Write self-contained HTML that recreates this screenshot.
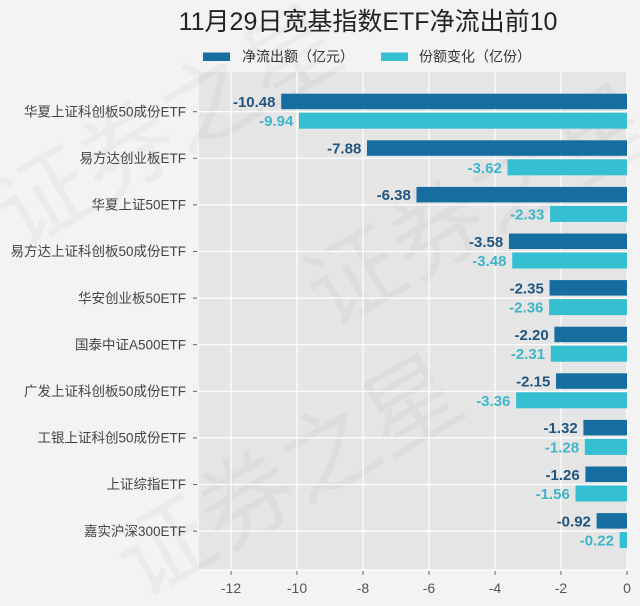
<!DOCTYPE html>
<html>
<head>
<meta charset="utf-8">
<style>
html,body{margin:0;padding:0;background:#f3f3f3;width:640px;height:606px;overflow:hidden;}
svg{display:block;}
</style>
</head>
<body>
<svg width="640" height="606" viewBox="0 0 640 606" xmlns="http://www.w3.org/2000/svg" overflow="hidden">
<rect x="0" y="0" width="640" height="606" fill="#f3f3f3"/>
<!-- plot background -->
<rect x="199" y="72" width="428" height="498" fill="#e5e5e5"/>
<!-- watermark -->
<g font-family="'Liberation Sans','Noto Sans CJK SC',sans-serif" font-size="95" fill="#000" fill-opacity="0.03">
<text x="20" y="250" transform="rotate(-30 20 250)">证券之星</text>
<text x="330" y="330" transform="rotate(-30 330 330)">证券之星</text>
<text x="140" y="600" transform="rotate(-30 140 600)">证券之星</text>
</g>
<!-- vertical grid -->
<g stroke="#ffffff" stroke-width="1.2">
<line x1="231" y1="72" x2="231" y2="570"/>
<line x1="297" y1="72" x2="297" y2="570"/>
<line x1="363" y1="72" x2="363" y2="570"/>
<line x1="429" y1="72" x2="429" y2="570"/>
<line x1="495" y1="72" x2="495" y2="570"/>
<line x1="561" y1="72" x2="561" y2="570"/>
<line x1="627" y1="72" x2="627" y2="570"/>
<!-- horizontal grid -->
<line x1="199" y1="111.7" x2="627" y2="111.7"/>
<line x1="199" y1="158.3" x2="627" y2="158.3"/>
<line x1="199" y1="204.9" x2="627" y2="204.9"/>
<line x1="199" y1="251.5" x2="627" y2="251.5"/>
<line x1="199" y1="298.1" x2="627" y2="298.1"/>
<line x1="199" y1="344.7" x2="627" y2="344.7"/>
<line x1="199" y1="391.3" x2="627" y2="391.3"/>
<line x1="199" y1="437.9" x2="627" y2="437.9"/>
<line x1="199" y1="484.5" x2="627" y2="484.5"/>
<line x1="199" y1="531.1" x2="627" y2="531.1"/>
<line x1="199" y1="570" x2="627" y2="570"/>
</g>
<!-- bars dark -->
<g fill="#166ea0">
<rect x="281.2" y="93.7" width="345.8" height="15.5"/>
<rect x="367.0" y="140.3" width="260.0" height="15.5"/>
<rect x="416.5" y="186.9" width="210.5" height="15.5"/>
<rect x="508.9" y="233.5" width="118.1" height="15.5"/>
<rect x="549.5" y="280.1" width="77.5" height="15.5"/>
<rect x="554.4" y="326.7" width="72.6" height="15.5"/>
<rect x="556.0" y="373.3" width="71.0" height="15.5"/>
<rect x="583.4" y="419.9" width="43.6" height="15.5"/>
<rect x="585.4" y="466.5" width="41.6" height="15.5"/>
<rect x="596.6" y="513.1" width="30.4" height="15.5"/>
</g>
<!-- bars cyan -->
<g fill="#35bfd3">
<rect x="299.0" y="112.7" width="328.0" height="16"/>
<rect x="507.5" y="159.3" width="119.5" height="16"/>
<rect x="550.1" y="205.9" width="76.9" height="16"/>
<rect x="512.2" y="252.5" width="114.8" height="16"/>
<rect x="549.1" y="299.1" width="77.9" height="16"/>
<rect x="550.8" y="345.7" width="76.2" height="16"/>
<rect x="516.1" y="392.3" width="110.9" height="16"/>
<rect x="584.8" y="438.9" width="42.2" height="16"/>
<rect x="575.5" y="485.5" width="51.5" height="16"/>
<rect x="619.7" y="532.1" width="7.3" height="16"/>
</g>
<!-- value labels dark -->
<g font-family="'Liberation Sans',sans-serif" font-size="15" font-weight="bold" fill="#1f5580" text-anchor="end">
<text x="275.5" y="107">-10.48</text>
<text x="361.3" y="153.6">-7.88</text>
<text x="410.8" y="200.2">-6.38</text>
<text x="503.2" y="246.8">-3.58</text>
<text x="543.8" y="293.4">-2.35</text>
<text x="548.7" y="340">-2.20</text>
<text x="550.3" y="386.6">-2.15</text>
<text x="577.7" y="433.2">-1.32</text>
<text x="579.7" y="479.8">-1.26</text>
<text x="590.9" y="526.4">-0.92</text>
</g>
<!-- value labels cyan -->
<g font-family="'Liberation Sans',sans-serif" font-size="15" font-weight="bold" fill="#3fb5c9" text-anchor="end">
<text x="293.3" y="126.2">-9.94</text>
<text x="501.8" y="172.8">-3.62</text>
<text x="544.4" y="219.4">-2.33</text>
<text x="506.5" y="266">-3.48</text>
<text x="543.4" y="312.6">-2.36</text>
<text x="545.1" y="359.2">-2.31</text>
<text x="510.4" y="405.8">-3.36</text>
<text x="579.1" y="452.4">-1.28</text>
<text x="569.8" y="499">-1.56</text>
<text x="614.0" y="545.6">-0.22</text>
</g>
<!-- y tick marks -->
<g stroke="#666" stroke-width="1">
<line x1="193" y1="111.7" x2="197" y2="111.7"/>
<line x1="193" y1="158.3" x2="197" y2="158.3"/>
<line x1="193" y1="204.9" x2="197" y2="204.9"/>
<line x1="193" y1="251.5" x2="197" y2="251.5"/>
<line x1="193" y1="298.1" x2="197" y2="298.1"/>
<line x1="193" y1="344.7" x2="197" y2="344.7"/>
<line x1="193" y1="391.3" x2="197" y2="391.3"/>
<line x1="193" y1="437.9" x2="197" y2="437.9"/>
<line x1="193" y1="484.5" x2="197" y2="484.5"/>
<line x1="193" y1="531.1" x2="197" y2="531.1"/>
<!-- x tick marks -->
<line x1="231" y1="571" x2="231" y2="575"/>
<line x1="297" y1="571" x2="297" y2="575"/>
<line x1="363" y1="571" x2="363" y2="575"/>
<line x1="429" y1="571" x2="429" y2="575"/>
<line x1="495" y1="571" x2="495" y2="575"/>
<line x1="561" y1="571" x2="561" y2="575"/>
<line x1="627" y1="571" x2="627" y2="575"/>
</g>
<!-- category labels -->
<g font-family="'Liberation Sans','Noto Sans CJK SC',sans-serif" font-size="13.5" fill="#444" text-anchor="end">
<text x="186" y="116.4">华夏上证科创板50成份ETF</text>
<text x="186" y="163">易方达创业板ETF</text>
<text x="186" y="209.6">华夏上证50ETF</text>
<text x="186" y="256.2">易方达上证科创板50成份ETF</text>
<text x="186" y="302.8">华安创业板50ETF</text>
<text x="186" y="349.4">国泰中证A500ETF</text>
<text x="186" y="396">广发上证科创板50成份ETF</text>
<text x="186" y="442.6">工银上证科创50成份ETF</text>
<text x="186" y="489.2">上证综指ETF</text>
<text x="186" y="535.8">嘉实沪深300ETF</text>
</g>
<!-- x tick labels -->
<g font-family="'Liberation Sans',sans-serif" font-size="14" fill="#555" text-anchor="middle">
<text x="231" y="593">-12</text>
<text x="297" y="593">-10</text>
<text x="363" y="593">-8</text>
<text x="429" y="593">-6</text>
<text x="495" y="593">-4</text>
<text x="561" y="593">-2</text>
<text x="627" y="593">0</text>
</g>
<!-- legend -->
<rect x="203" y="52.5" width="27" height="8.5" fill="#166ea0"/>
<text x="242" y="61.5" font-family="'Liberation Sans','Noto Sans CJK SC',sans-serif" font-size="14" fill="#333">净流出额（亿元）</text>
<rect x="381" y="52.5" width="27" height="8.5" fill="#35bfd3"/>
<text x="419" y="61.5" font-family="'Liberation Sans','Noto Sans CJK SC',sans-serif" font-size="14" fill="#333">份额变化（亿份）</text>
<!-- title -->
<text x="368" y="30" text-anchor="middle" font-family="'Liberation Sans','Noto Sans CJK SC',sans-serif" font-size="25" fill="#222">11月29日宽基指数ETF净流出前10</text>
</svg>
</body>
</html>
